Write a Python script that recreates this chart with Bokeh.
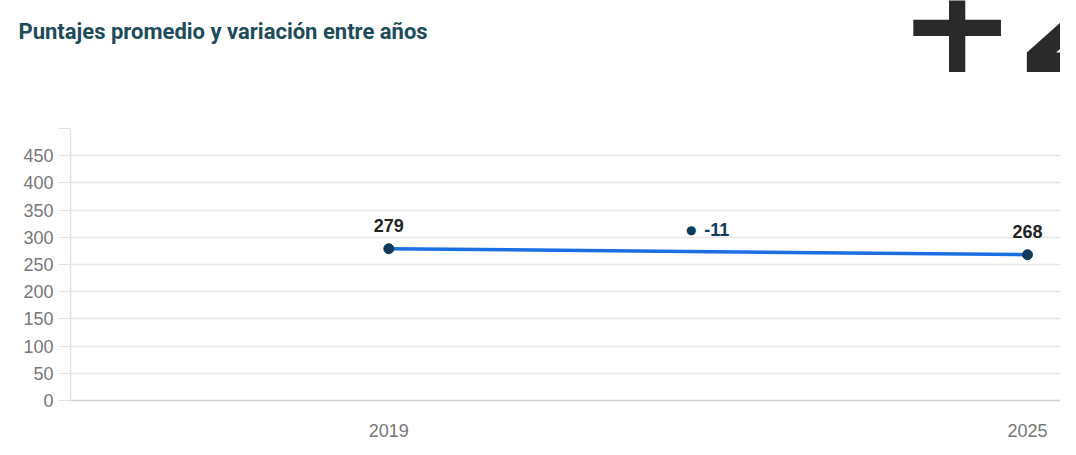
from bokeh.plotting import figure
from bokeh.layouts import column
from bokeh.models import ColumnDataSource, FixedTicker, LabelSet, Range1d
from bokeh.core.properties import value
from bokeh.embed import file_html
from bokeh.resources import INLINE

years = [2019, 2025]
scores = [279, 268]
variation = -11
variation_label = "-11"
y_ticks = [0, 50, 100, 150, 200, 250, 300, 350, 400, 450, 500]
title_text = "Puntajes promedio y variación entre años"
badge_text = "+2"

W = 1060
HEAD_H = 128

# ---- header (title + badge) ----
head = figure(width=W, height=HEAD_H, output_backend="svg", toolbar_location=None,
              x_range=Range1d(0, W), y_range=Range1d(0, HEAD_H),
              x_axis_type=None, y_axis_type=None,
              min_border_left=0, min_border_right=0, min_border_top=0, min_border_bottom=0)
head.outline_line_color = None
head.grid.grid_line_color = None
head.background_fill_color = "white"
head.border_fill_color = "white"
head.text(x=[18], y=[HEAD_H - 31], text=[title_text], text_font=value("Roboto"),
          text_font_style="bold", text_font_size="22px", text_color="#1c4b5c",
          text_baseline="middle", text_align="left")
head.text(x=[898], y=[HEAD_H - 20], text=[badge_text], text_font=value("DejaVu Sans"),
          text_font_style="bold", text_font_size="140px", text_color="#2a2a2a",
          text_baseline="alphabetic", text_align="left")

# ---- main chart ----
p = figure(width=W, height=311, output_backend="svg", toolbar_location=None,
           x_range=Range1d(2016.01, 2025.31), y_range=Range1d(0, 500),
           min_border_left=70, min_border_right=0, min_border_top=0, min_border_bottom=37)
p.outline_line_color = None
p.background_fill_color = "white"
p.border_fill_color = "white"

for fig in (head, p):
    if "frame_align" in fig.properties():
        fig.frame_align = False

p.xgrid.grid_line_color = None
p.ygrid.grid_line_color = "#e6e6e6"
p.ygrid.grid_line_width = 1.5

p.yaxis.ticker = FixedTicker(ticks=y_ticks)
p.yaxis.major_label_overrides = {500: ""}
p.yaxis.axis_line_color = "#e2e2e2"
p.yaxis.axis_line_width = 1.5
p.yaxis.major_tick_line_color = "#e2e2e2"
p.yaxis.major_tick_out = 12
p.yaxis.major_tick_in = 0
p.yaxis.minor_tick_line_color = None
p.yaxis.major_label_text_font = "Liberation Sans"
p.yaxis.major_label_text_font_size = "18px"
p.yaxis.major_label_text_color = "#777777"
p.yaxis.major_label_standoff = 5

p.xaxis.ticker = FixedTicker(ticks=years)
p.xaxis.axis_line_color = "#cfcfcf"
p.xaxis.axis_line_width = 1.5
p.xaxis.major_tick_line_color = None
p.xaxis.minor_tick_line_color = None
p.xaxis.major_label_text_font = "Liberation Sans"
p.xaxis.major_label_text_font_size = "18px"
p.xaxis.major_label_text_color = "#777777"
p.xaxis.major_label_standoff = 17

src = ColumnDataSource(dict(x=years, y=scores, lab=[str(s) for s in scores]))
p.line("x", "y", source=src, line_color="#1a6fe3", line_width=3.5)
p.scatter("x", "y", source=src, size=10, fill_color="#0d3c5a", line_color="#0d3c5a")

p.add_layout(LabelSet(x="x", y="y", text="lab", source=src, y_offset=17,
                      text_align="center", text_baseline="bottom",
                      text_font=value("Liberation Sans"), text_font_style="bold",
                      text_font_size="18px", text_color="#222222"))

mid_x = sum(years) / 2
mid_y = sum(scores) / 2
vsrc = ColumnDataSource(dict(x=[mid_x], y=[mid_y], t=[variation_label]))
p.text("x", "y", text=value("\u25cf"), source=vsrc, x_offset=-17, y_offset=-22,
       text_align="center", text_baseline="middle", text_font=value("DejaVu Sans"),
       text_font_size="12px", text_color="#0d3c5a")
p.text("x", "y", text="t", source=vsrc, x_offset=-4, y_offset=-22, text_align="left",
       text_baseline="middle", text_font=value("Liberation Sans"),
       text_font_style="bold", text_font_size="18px", text_color="#0d3c5a")

layout = column(head, p, spacing=0)
open("out.html", "w").write(file_html(layout, INLINE))
